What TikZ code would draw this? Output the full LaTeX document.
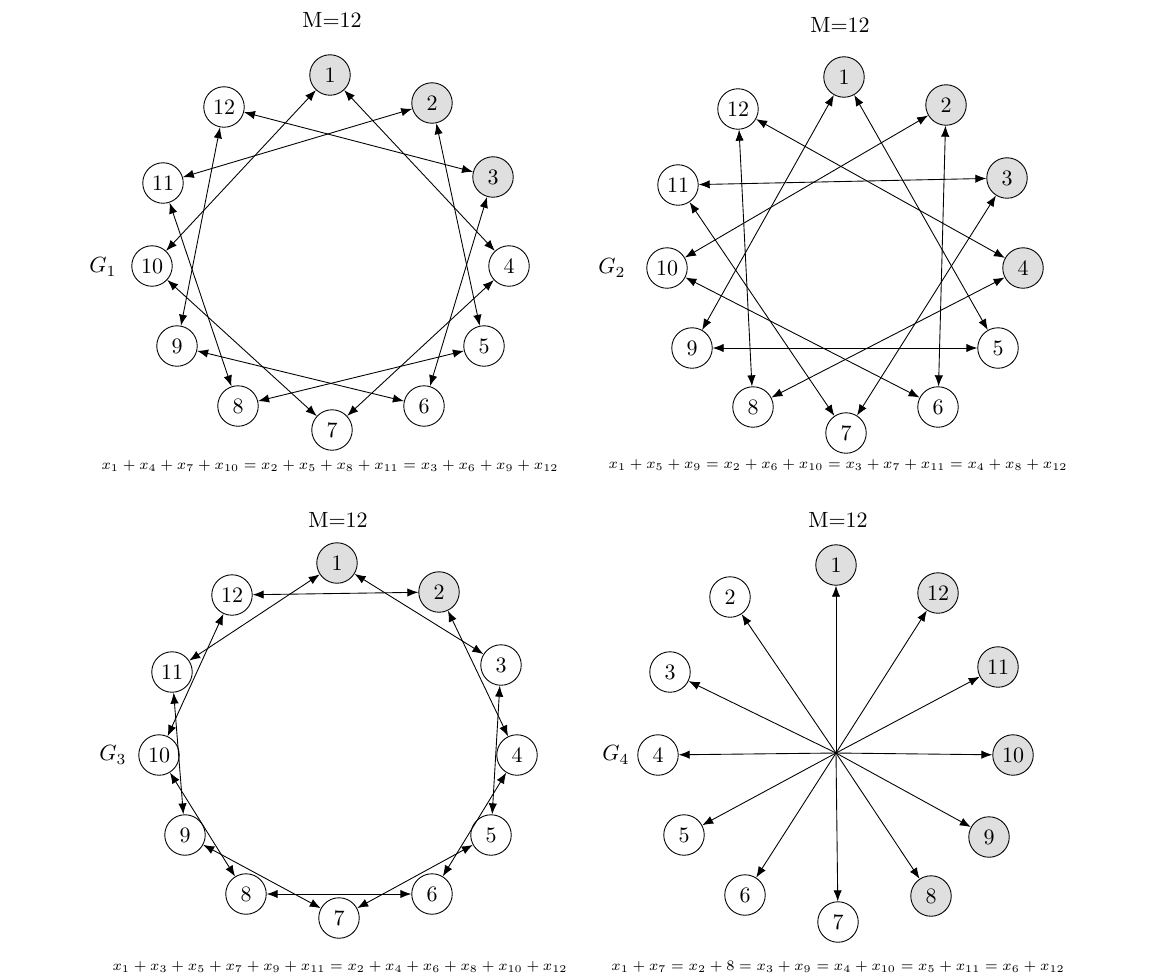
\documentclass[tikz,border=0pt]{standalone}
\usepackage{amsmath,amssymb}
\usepackage{xcolor}
\usepackage{tikz}
\usetikzlibrary{arrows.meta}

\begin{document}
\begin{tikzpicture}[x=0.4545pt,y=-0.4545pt,>={Latex[length=5pt,width=3.8pt]},
  vtx/.style={draw,circle,minimum size=18.4pt,inner sep=0pt},
  link/.style={<->},
  eq/.style={font=\scriptsize,scale=0.94}]
\useasboundingbox (0,0) rectangle (1151,978);

% G1
\node (t1) at (332,20) {M=12};
\node (g1) at (103,267) {$G_1$};
\foreach \i/\x/\y/\c in {1/330/75/gray!25, 2/432/103/gray!25, 3/493/177/gray!25,
  4/509/266/white, 5/484/346/white, 6/424/406/white, 7/332/430/white,
  8/238/406/white, 9/177/346/white, 10/152/266/white, 11/163/183/white, 12/224/107/white}
  \node[vtx,fill=\c] (p\i) at (\x,\y) {\i};
\foreach \a/\b in {1/4,1/10,2/5,2/11,3/6,3/12,4/7,5/8,6/9,7/10,8/11,9/12}
  \draw[link] (p\a) -- (p\b);
\node[eq] (f1) at (330,466) {$x_1+x_4+x_7+x_{10}=x_2+x_5+x_8+x_{11}=x_3+x_6+x_9+x_{12}$};

% G2
\node (t2) at (840,25) {M=12};
\node (g2) at (612,268) {$G_2$};
\foreach \i/\x/\y/\c in {1/844/77/gray!25, 2/946/105/gray!25, 3/1007/178/gray!25,
  4/1023/268/gray!25, 5/998/348/white, 6/938/407/white, 7/846/433/white,
  8/753/407/white, 9/692/348/white, 10/667/268/white, 11/678/185/white, 12/738/109/white}
  \node[vtx,fill=\c] (q\i) at (\x,\y) {\i};
\foreach \a/\b in {1/5,1/9,2/6,2/10,3/7,3/11,4/8,4/12,5/9,6/10,7/11,8/12}
  \draw[link] (q\a) -- (q\b);
\node[eq] (f2) at (838,465) {$x_1+x_5+x_9=x_2+x_6+x_{10}=x_3+x_7+x_{11}=x_4+x_8+x_{12}$};

% G3
\node (t3) at (338,520) {M=12};
\node (g3) at (113,755) {$G_3$};
\foreach \i/\x/\y/\c in {1/337/563/gray!25, 2/439/592/gray!25, 3/501/665/white,
  4/517/755/white, 5/491/835/white, 6/432/894/white, 7/339/918/white,
  8/246/894/white, 9/185/835/white, 10/159/755/white, 11/172/672/white, 12/232/595/white}
  \node[vtx,fill=\c] (r\i) at (\x,\y) {\i};
\foreach \a/\b in {1/3,1/11,2/4,2/12,3/5,4/6,5/7,6/8,7/9,8/10,9/11,10/12}
  \draw[link] (r\a) -- (r\b);
\node[eq] (f3) at (340,967) {$x_1+x_3+x_5+x_7+x_9+x_{11}=x_2+x_4+x_6+x_8+x_{10}+x_{12}$};

% G4
\node (t4) at (838,520) {M=12};
\node (g4) at (616,755) {$G_4$};
\foreach \i/\x/\y/\c in {1/836/565/gray!25, 2/730/597/white, 3/670/672/white,
  4/658/755/white, 5/684/835/white, 6/745/895/white, 7/838/922/white,
  8/931/896/gray!25, 9/989/837/gray!25, 10/1013/755/gray!25, 11/998/667/gray!25, 12/938/593/gray!25}
  \node[vtx,fill=\c] (s\i) at (\x,\y) {\i};
\coordinate (s0) at (836,753);
\foreach \i in {1,...,12}
  \draw[->] (s0) -- (s\i);
\node[eq] (f4) at (838,967) {$x_1+x_7=x_2+8=x_3+x_9=x_4+x_{10}=x_5+x_{11}=x_6+x_{12}$};
\end{tikzpicture}
\end{document}
